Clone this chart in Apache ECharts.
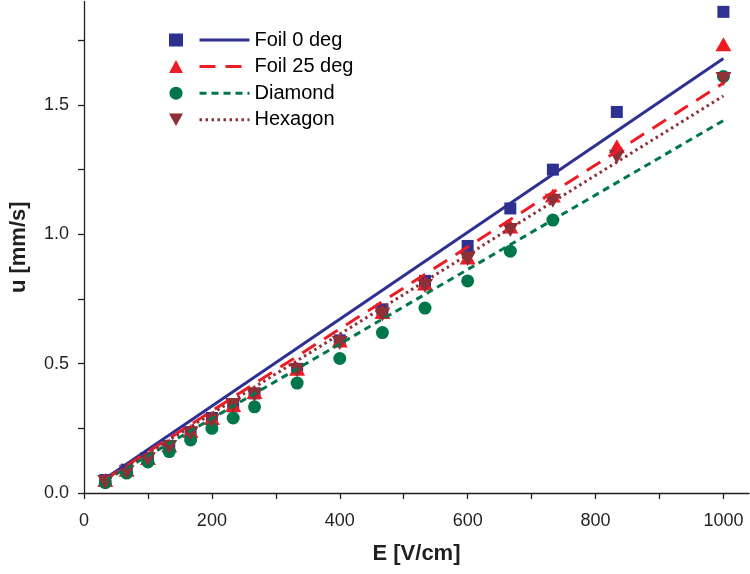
<!DOCTYPE html>
<html>
<head>
<meta charset="utf-8">
<script src="https://cdn.jsdelivr.net/npm/echarts@6/dist/echarts.min.js"></script>
<style>html,body{margin:0;padding:0;background:#fff}#c{width:750px;height:574px}</style>
</head>
<body>
<div id="c"></div>
<script>
// ---- data ----
var E = [33.3, 66.7, 100, 133.3, 166.7, 200, 233.3, 266.7, 333.3, 400, 466.7, 533.3, 600, 666.7, 733.3, 833.3, 1000];
var foil0 = [0.05, 0.09, 0.135, 0.18, 0.235, 0.29, 0.335, 0.385, 0.48, 0.59, 0.71, 0.82, 0.955, 1.10, 1.25, 1.473, 1.86];
var foil25 = [0.05, 0.09, 0.135, 0.185, 0.24, 0.29, 0.34, 0.39, 0.48, 0.59, 0.70, 0.81, 0.91, 1.03, 1.15, 1.34, 1.735];
var diamond = [0.04, 0.077, 0.12, 0.16, 0.205, 0.25, 0.29, 0.333, 0.425, 0.52, 0.62, 0.715, 0.82, 0.935, 1.055, null, 1.61];
var hexagon = [0.043, 0.08, 0.13, 0.178, 0.23, 0.28, 0.34, 0.38, 0.475, 0.58, 0.69, 0.80, 0.905, 1.017, 1.13, 1.30, 1.60];
var fitE = [33.3, 1000];
var fit0 = [0.056, 1.68];
var fit25 = [0.053, 1.585];
var fitDiamond = [0.048, 1.44];
var fitHexagon = [0.051, 1.535];
var names = ['Foil 0 deg', 'Foil 25 deg', 'Diamond', 'Hexagon'];
var xTickLabels = [0, 200, 400, 600, 800, 1000];
var yTickLabels = [0.0, 0.5, 1.0, 1.5];

function pairs(xs, ys) {
  var out = [];
  for (var i = 0; i < xs.length; i++) { if (ys[i] != null) out.push([xs[i], ys[i]]); }
  return out;
}

var colors = ['#2e3192', '#ed1c24', '#00774a', '#8f2f37'];
var FONT = '"Liberation Sans", Arial, sans-serif';
var invTri = 'path://M0,0 L10,0 L5,9 Z';

var chart = echarts.init(document.getElementById('c'), null, {renderer: 'canvas'});
chart.setOption({
  animation: false,
  backgroundColor: '#ffffff',
  grid: {left: 83, right: 1, top: 1.5, bottom: 81, containLabel: false},
  xAxis: {
    type: 'value', min: 0, max: 1040, interval: 100,
    name: 'E [V/cm]', nameLocation: 'middle', nameGap: 50,
    nameTextStyle: {fontFamily: FONT, fontSize: 22, fontWeight: 'bold', color: '#231f20'},
    axisLine: {show: true, onZero: false, lineStyle: {color: '#231f20', width: 1.3}},
    axisTick: {show: true, inside: false, length: 6, lineStyle: {color: '#231f20', width: 1.3}},
    axisLabel: {
      show: true, margin: 19, fontFamily: FONT, fontSize: 18, color: '#231f20',
      showMaxLabel: false,
      formatter: function (v) { return xTickLabels.indexOf(v) >= 0 ? String(v) : ''; }
    },
    splitLine: {show: false}
  },
  yAxis: {
    type: 'value', min: 0, max: 1.9, interval: 0.25,
    name: 'u [mm/s]', nameLocation: 'middle', nameGap: 54,
    nameTextStyle: {fontFamily: FONT, fontSize: 22, fontWeight: 'bold', color: '#231f20'},
    axisLine: {show: true, onZero: false, lineStyle: {color: '#231f20', width: 1.3}},
    axisTick: {show: true, inside: false, length: 6, lineStyle: {color: '#231f20', width: 1.3}},
    axisLabel: {
      show: true, margin: 15, fontFamily: FONT, fontSize: 18, color: '#231f20',
      showMaxLabel: false,
      formatter: function (v) {
        for (var i = 0; i < yTickLabels.length; i++) {
          if (Math.abs(yTickLabels[i] - v) < 1e-6) return yTickLabels[i].toFixed(1);
        }
        return '';
      }
    },
    splitLine: {show: false}
  },
  legend: [
    {
      data: names.map(function (n) { return n + ' '; }),
      orient: 'vertical', left: 164, top: 25, itemGap: 6.6,
      itemWidth: 14, itemHeight: 13,
      formatter: function () { return ' '; },
      textStyle: {fontFamily: FONT, fontSize: 20, lineHeight: 20, color: '#000'},
      selectedMode: false
    },
    {
      data: names,
      orient: 'vertical', left: 193, top: 25, itemGap: 6.6,
      itemWidth: 50, itemHeight: 14,
      itemStyle: {opacity: 0},
      lineStyle: {width: 3},
      textStyle: {fontFamily: FONT, fontSize: 20, lineHeight: 20, color: '#000'},
      selectedMode: false
    }
  ],
  series: [
    {name: names[0] + ' ', type: 'scatter', symbol: 'rect', symbolSize: 12,
     itemStyle: {color: colors[0], opacity: 1}, data: pairs(E, foil0), z: 2},
    {name: names[1] + ' ', type: 'scatter', symbol: 'triangle', symbolSize: [16, 14],
     itemStyle: {color: colors[1], opacity: 1}, data: pairs(E, foil25), z: 2},
    {name: names[2] + ' ', type: 'scatter', symbol: 'circle', symbolSize: 13,
     itemStyle: {color: colors[2], opacity: 1}, data: pairs(E, diamond), z: 2},
    {name: names[3] + ' ', type: 'scatter', symbol: invTri, symbolSize: [16, 14],
     itemStyle: {color: colors[3], opacity: 1}, data: pairs(E, hexagon), z: 2},
    {name: names[0], type: 'line', showSymbol: false, symbol: 'none', z: 3,
     lineStyle: {color: colors[0], width: 3, type: 'solid'},
     itemStyle: {color: colors[0]}, data: pairs(fitE, fit0)},
    {name: names[1], type: 'line', showSymbol: false, symbol: 'none', z: 3,
     lineStyle: {color: colors[1], width: 3, type: [16, 10]},
     itemStyle: {color: colors[1]}, data: pairs(fitE, fit25)},
    {name: names[2], type: 'line', showSymbol: false, symbol: 'none', z: 3,
     lineStyle: {color: colors[2], width: 3, type: [7, 5]},
     itemStyle: {color: colors[2]}, data: pairs(fitE, fitDiamond)},
    {name: names[3], type: 'line', showSymbol: false, symbol: 'none', z: 3,
     lineStyle: {color: colors[3], width: 3, type: [2.5, 3.5]},
     itemStyle: {color: colors[3]}, data: pairs(fitE, fitHexagon)}
  ]
});
</script>
</body>
</html>
